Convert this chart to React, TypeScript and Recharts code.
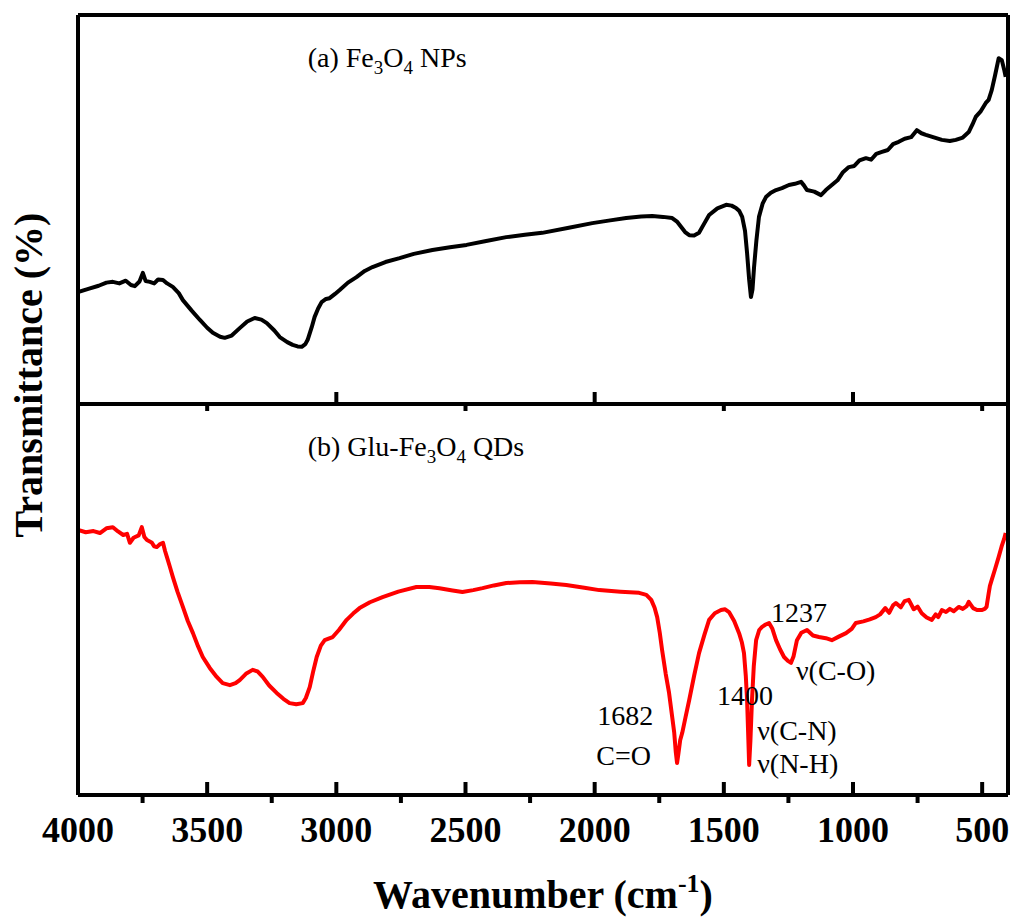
import React from 'react';
import { LineChart, Line, XAxis, YAxis, ReferenceDot } from 'recharts';

const FONT = '"Liberation Serif", "Times New Roman", Times, serif';

// ---- data: (a) Fe3O4 NPs ----
const topWavenumber = [
  4000, 3960, 3920, 3890, 3865, 3840, 3815, 3795, 3780, 3762, 3749, 3738, 3722, 3705, 3690, 3671, 3655, 3633,
  3610, 3594, 3560, 3528, 3500, 3478, 3450, 3432, 3405, 3374, 3345, 3316, 3290, 3269, 3240, 3219, 3190, 3169,
  3150, 3134, 3120, 3111, 3095, 3084, 3070, 3057, 3040, 3026, 3005, 2987, 2955, 2922, 2890, 2860, 2810, 2755,
  2700, 2628, 2560, 2496, 2420, 2342, 2270, 2203, 2100, 2009, 1940, 1878, 1820, 1777, 1735, 1700, 1680, 1665,
  1650, 1634, 1615, 1596, 1575, 1557, 1525, 1491, 1470, 1453, 1440, 1429, 1418, 1410, 1402, 1395, 1389, 1383,
  1374, 1364, 1350, 1337, 1318, 1298, 1275, 1248, 1225, 1201, 1190, 1178, 1150, 1124, 1105, 1082, 1060, 1040,
  1016, 995, 975, 950, 930, 910, 888, 865, 845, 823, 800, 775, 753, 735, 718, 690, 656, 625, 602, 575, 552, 538,
  525, 505, 486, 475, 463, 450, 436, 424, 415, 409,
];
const topTransmittance = [
  28.8, 29.6, 30.4, 31.2, 31.4, 31.0, 31.7, 30.6, 30.3, 31.5, 33.7, 31.6, 31.4, 31.0, 32.0, 31.9, 31.0, 30.1,
  28.5, 26.7, 24.0, 21.6, 19.6, 18.3, 17.3, 17.0, 17.6, 19.5, 21.2, 22.1, 21.7, 20.8, 18.9, 17.2, 15.9, 15.2,
  14.8, 14.7, 15.4, 16.5, 19.8, 22.4, 24.6, 26.2, 27.0, 27.2, 28.3, 29.3, 31.2, 32.6, 34.2, 35.2, 36.5, 37.5,
  38.6, 39.6, 40.3, 40.9, 41.9, 42.9, 43.5, 44.0, 45.3, 46.5, 47.2, 47.8, 48.2, 48.3, 48.1, 47.8, 46.8, 45.5,
  44.2, 43.4, 43.3, 44.0, 46.5, 48.6, 50.3, 51.2, 51.0, 50.4, 49.6, 48.1, 44.5, 38.8, 32.0, 27.5, 29.5, 35.2,
  42.0, 48.1, 51.5, 53.2, 54.3, 55.0, 55.5, 56.3, 56.6, 57.1, 56.2, 55.0, 54.6, 53.7, 55.0, 56.3, 57.5, 59.5,
  60.9, 61.2, 62.6, 63.2, 62.8, 64.3, 64.8, 65.3, 66.8, 67.4, 68.2, 68.6, 70.4, 69.6, 69.2, 68.6, 67.9, 67.6,
  67.9, 68.5, 69.9, 71.8, 73.8, 75.3, 77.4, 78.2, 80.7, 84.5, 88.9, 88.4, 86.0, 84.1,
];

// ---- data: (b) Glu-Fe3O4 QDs ----
const bottomWavenumber = [
  4000, 3970, 3940, 3915, 3890, 3865, 3845, 3825, 3810, 3799, 3785, 3765, 3753, 3743, 3733, 3715, 3705, 3695,
  3682, 3671, 3663, 3656, 3645, 3633, 3615, 3594, 3575, 3555, 3535, 3517, 3490, 3463, 3440, 3412, 3390, 3374,
  3350, 3324, 3305, 3285, 3260, 3231, 3205, 3181, 3155, 3130, 3118, 3103, 3090, 3076, 3060, 3045, 3030, 3014,
  2990, 2960, 2935, 2910, 2870, 2821, 2760, 2690, 2640, 2601, 2550, 2512, 2470, 2434, 2390, 2342, 2290, 2241,
  2170, 2110, 2040, 1982, 1900, 1828, 1800, 1781, 1768, 1758, 1748, 1739, 1725, 1712, 1700, 1692, 1686, 1681,
  1676, 1669, 1661, 1648, 1634, 1615, 1596, 1575, 1557, 1535, 1511, 1495, 1480, 1460, 1441, 1430, 1422, 1415,
  1410, 1405, 1402, 1397, 1391, 1384, 1375, 1363, 1352, 1338, 1325, 1312, 1298, 1282, 1267, 1252, 1240, 1230,
  1217, 1200, 1178, 1155, 1132, 1105, 1082, 1055, 1027, 1005, 989, 960, 935, 912, 895, 875, 860, 845, 834, 815,
  800, 784, 765, 750, 734, 715, 695, 680, 670, 656, 640, 625, 610, 591, 575, 560, 552, 535, 520, 502, 490, 483,
  475, 470, 463, 450, 436, 425, 415, 409,
];
const bottomTransmittance = [
  67.8, 67.2, 67.5, 67.0, 68.2, 68.5, 67.4, 66.5, 66.8, 64.5, 65.8, 66.4, 68.5, 66.0, 65.2, 64.6, 63.6, 63.4,
  64.2, 64.5, 62.4, 60.9, 58.5, 55.8, 52.0, 48.1, 44.5, 41.4, 38.0, 35.3, 32.5, 30.2, 28.6, 28.1, 28.6, 29.4,
  31.0, 32.0, 31.6, 30.2, 28.0, 26.1, 24.6, 23.5, 23.2, 23.5, 24.8, 27.6, 31.5, 35.3, 38.2, 39.6, 40.0, 40.4,
  42.2, 44.8, 46.4, 47.8, 49.3, 50.6, 52.0, 53.2, 53.2, 52.9, 52.3, 51.9, 52.4, 52.9, 53.6, 54.2, 54.4, 54.5,
  54.1, 53.7, 53.0, 52.4, 52.0, 51.7, 51.2, 49.9, 47.9, 45.5, 41.5, 37.1, 31.0, 26.1, 20.0, 15.9, 11.0, 8.2,
  10.5, 14.0, 15.9, 20.0, 24.3, 30.5, 36.3, 41.0, 44.8, 46.5, 47.3, 47.5, 46.8, 44.5, 41.4, 39.0, 36.3, 30.5,
  24.3, 14.0, 7.7, 14.0, 24.3, 33.0, 39.6, 42.2, 43.0, 43.6, 44.0, 42.5, 39.6, 37.2, 35.3, 34.3, 33.8, 35.5,
  39.6, 41.5, 42.2, 40.8, 40.4, 40.1, 39.6, 40.5, 41.4, 42.5, 44.0, 44.4, 44.9, 45.5, 46.2, 47.8, 46.6, 48.5, 49.1, 48.0,
  49.6, 49.9, 47.5, 48.2, 46.5, 45.4, 44.8, 46.2, 45.5, 47.3, 46.8, 47.6, 47.0, 48.1, 47.6, 48.3, 49.4, 47.8, 47.3, 47.3, 47.6, 48.1,
  51.5, 53.5, 55.0, 57.8, 60.9, 63.5, 65.5, 67.0,
];

// ---- axis ticks ----
const majorTicks = [4000, 3500, 3000, 2500, 2000, 1500, 1000, 500];
const minorTicks = [3750, 3250, 2750, 2250, 1750, 1250, 750];
const topPanelInnerTicks = [3000, 2000, 1000];
const bottomPanelTopTicks = [3500, 2500, 1500, 500];
const X_DOMAIN: [number, number] = [400, 4000];
const Y_DOMAIN: [number, number] = [0, 100];

// ---- annotations (anchored in data units) ----
const panelA = { w: 3111, t: 86.6 };
const panelB = { w: 3111, t: 86.7 };
const peakNotes = [
  { w: 1990, t: 17.9, text: '1682' },
  { w: 1994, t: 7.7, text: 'C=O' },
  { w: 1526, t: 23.0, text: '1400' },
  { w: 1371, t: 14.1, text: 'ν(C-N)' },
  { w: 1371, t: 5.6, text: 'ν(N-H)' },
  { w: 1317, t: 44.2, text: '1237' },
  { w: 1221, t: 29.4, text: 'ν(C-O)' },
];

const zip = (ws: number[], ts: number[]) => ws.map((w, i) => ({ w, t: ts[i] }));
const topData = zip(topWavenumber, topTransmittance);
const bottomData = zip(bottomWavenumber, bottomTransmittance);

const FRAME = { stroke: '#000', strokeWidth: 4 };

// ticks on the shared divider: top panel ticks point up, bottom panel ticks point down
const DividerTick = (props: any) => {
  const { x, y, payload } = props;
  const v = payload?.value;
  const up = topPanelInnerTicks.includes(v);
  return <line x1={x} x2={x} y1={y} y2={up ? y - 12 : y + 7} stroke="#000" strokeWidth={4} />;
};

const BottomTick = (props: any) => {
  const { x, y, payload } = props;
  const v = payload?.value;
  if (minorTicks.includes(v)) {
    return <line x1={x} x2={x} y1={y} y2={y + 8} stroke="#000" strokeWidth={4} />;
  }
  return (
    <g>
      <line x1={x} x2={x} y1={y} y2={y - 13} stroke="#000" strokeWidth={4} />
      <text x={x} y={y + 47} textAnchor="middle" fontFamily={FONT} fontWeight="bold" fontSize={36} fill="#000">
        {v}
      </text>
    </g>
  );
};

const XTitle = (props: any) => {
  const vb = props.viewBox || { x: 78, y: 795, width: 930, height: 125 };
  const cx = vb.x + vb.width / 2;
  const y = vb.y + 113;
  return (
    <text x={cx} y={y} textAnchor="middle" fontFamily={FONT} fontWeight="bold" fontSize={40} fill="#000">
      <tspan>Wavenumber (cm</tspan>
      <tspan fontSize={26} dy={-16}>-1</tspan>
      <tspan dy={16}>)</tspan>
    </text>
  );
};

const PanelLabel = (prefix: string, suffix: string) => (props: any) => {
  const { cx, cy } = props;
  return (
    <text x={cx} y={cy} fontFamily={FONT} fontSize={28} fill="#000" style={{ whiteSpace: 'pre' }}>
      <tspan>{prefix}</tspan>
      <tspan fontSize={19} dy={7}>3</tspan>
      <tspan dy={-7}>O</tspan>
      <tspan fontSize={19} dy={7}>4</tspan>
      <tspan dy={-7}>{suffix}</tspan>
    </text>
  );
};

const NoteShape = (text: string) => (props: any) => {
  const { cx, cy } = props;
  return (
    <text x={cx} y={cy} fontFamily={FONT} fontSize={28} fill="#000">
      {text}
    </text>
  );
};

export default function App() {
  return (
    <div style={{ position: 'absolute', left: 0, top: 0, width: 1016, height: 920, background: '#fff', overflow: 'hidden' }}>
      {/* bottom panel (drawn first so the top panel's divider ticks sit above it) */}
      <div style={{ position: 'absolute', left: 0, top: 390 }}>
        <LineChart width={1016} height={530} margin={{ top: 13, right: 7, bottom: 0, left: 77 }}>
          <XAxis xAxisId="frame" orientation="top" type="number" domain={X_DOMAIN} reversed allowDataOverflow height={1}
            tick={false} tickLine={false} axisLine={FRAME} />
          <XAxis xAxisId="main" orientation="bottom" type="number" dataKey="w" domain={X_DOMAIN} reversed allowDataOverflow height={125}
            ticks={[...majorTicks, ...minorTicks]} interval={0} tick={BottomTick} tickLine={false} tickSize={0} tickMargin={0}
            axisLine={FRAME} label={{ content: XTitle }} />
          <YAxis yAxisId="main" type="number" domain={Y_DOMAIN} width={1} tick={false} tickLine={false} axisLine={FRAME} />
          <YAxis yAxisId="right" orientation="right" type="number" domain={Y_DOMAIN} width={1} tick={false} tickLine={false} axisLine={FRAME} />
          <Line xAxisId="main" yAxisId="main" data={bottomData} dataKey="t" type="linear" stroke="#ff0000" strokeWidth={4}
            strokeLinejoin="round" dot={false} activeDot={false} isAnimationActive={false} />
          <ReferenceDot xAxisId="main" yAxisId="main" x={panelB.w} y={panelB.t} r={1} ifOverflow="visible"
            shape={PanelLabel('(b) Glu-Fe', ' QDs')} />
          {peakNotes.map((n) => (
            <ReferenceDot key={n.text + n.t} xAxisId="main" yAxisId="main" x={n.w} y={n.t} r={1} ifOverflow="visible"
              shape={NoteShape(n.text)} />
          ))}
        </LineChart>
      </div>
      {/* top panel */}
      <div style={{ position: 'absolute', left: 0, top: 0 }}>
        <LineChart width={1016} height={420} margin={{ top: 14, right: 7, bottom: 15, left: 77 }}>
          <XAxis xAxisId="frame" orientation="top" type="number" domain={X_DOMAIN} reversed allowDataOverflow height={1} tick={false} tickLine={false} axisLine={FRAME} />
          <XAxis xAxisId="main" orientation="bottom" type="number" dataKey="w" domain={X_DOMAIN} reversed allowDataOverflow height={1}
            ticks={[...bottomPanelTopTicks, ...topPanelInnerTicks]} interval={0} tick={DividerTick} tickLine={false} tickSize={0} tickMargin={0} axisLine={FRAME} />
          <YAxis yAxisId="main" type="number" domain={Y_DOMAIN} width={1} tick={false} tickLine={false} axisLine={FRAME} />
          <YAxis yAxisId="right" orientation="right" type="number" domain={Y_DOMAIN} width={1} tick={false} tickLine={false} axisLine={FRAME} />
          <Line xAxisId="main" yAxisId="main" data={topData} dataKey="t" type="linear" stroke="#000" strokeWidth={4}
            strokeLinejoin="round" dot={false} activeDot={false} isAnimationActive={false} />
          <ReferenceDot xAxisId="main" yAxisId="main" x={panelA.w} y={panelA.t} r={1} ifOverflow="visible"
            shape={PanelLabel('(a) Fe', ' NPs')} />
        </LineChart>
      </div>
      {/* y-axis title spanning both panels */}
      <svg width={70} height={920} style={{ position: 'absolute', left: 0, top: 0 }}>
        <text transform="translate(42,375) rotate(-90)" textAnchor="middle" fontFamily={FONT} fontWeight="bold" fontSize={40} fill="#000">
          Transmittance (%)
        </text>
      </svg>
    </div>
  );
}
